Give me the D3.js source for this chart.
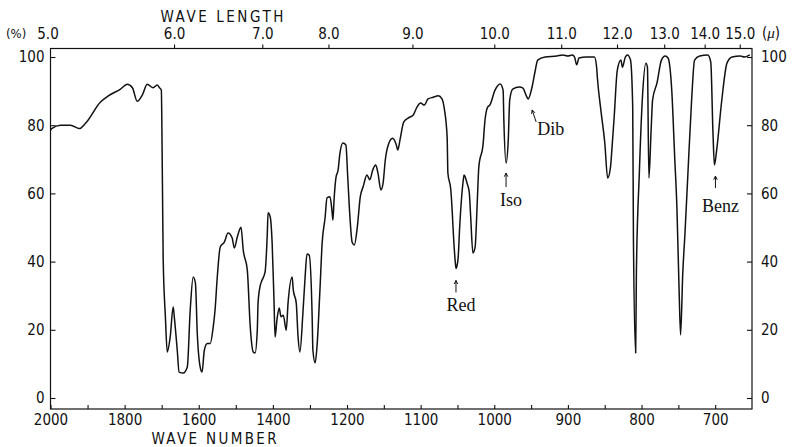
<!DOCTYPE html>
<html>
<head>
<meta charset="utf-8">
<script src="https://cdn.jsdelivr.net/npm/d3@7"></script>
<style>
  html, body { margin: 0; padding: 0; background: #fff; }
  svg { display: block; }
  .tick text { font-family: "DejaVu Sans Condensed", "Liberation Sans", sans-serif; font-size: 15px; fill: #111; }
  .lbl { font-family: "DejaVu Sans Condensed", "Liberation Sans", sans-serif; font-size: 15px; fill: #111; }
  .ann { font-family: "Liberation Serif", "DejaVu Serif", serif; font-size: 18px; fill: #111; }
</style>
</head>
<body>
<svg id="chart" width="792" height="447"></svg>
<script>
// ---------- DATA ----------
const wavenumber = [
  2000,1997,1973,1946,1922,1906,1865,1844,1811,1793,
  1779,1766,1752,1739,1723,1712,1706,1701,1698,1696,
  1690,1685,1677,1669,1666,1658,1653,1642,1631,1623,
  1615,1609,1604,1596,1591,1585,1577,1569,1561,1556,
  1550,1542,1531,1521,1510,1504,1496,1486,1480,1469,
  1461,1453,1448,1442,1440,1434,1429,1421,1415,1413,
  1407,1402,1397,1394,1389,1383,1378,1372,1364,1359,
  1348,1345,1337,1332,1327,1319,1313,1308,1302,1294,
  1292,1286,1281,1273,1267,1259,1254,1246,1240,1238,
  1235,1230,1224,1219,1211,1203,1199,1196,1193,1190,
  1186,1182,1178,1173,1169,1165,1161,1158,1154,1151,
  1148,1144,1138,1133,1131,1128,1123,1117,1110,1105,
  1100,1095,1090,1083,1076,1071,1068,1064,1063,1059,
  1057,1056,1053,1052,1051,1049,1047,1042,1041,1037,
  1034,1032,1029,1026,1023,1021,1015,1013,1009,1006,
  999,992,988,987,984,981,979,975,966,961,
  957,954,949,945,941,931,915,907,900,894,
  891,888,885,875,864,861,860,855,850,846,
  842,841,837,833,828,826,822,819,815,812,
  811,808,807,803,799,794,792,790,787,785,
  779,773,768,764,759,755,752,749,747,744,
  741,737,732,728,721,710,706,703,701,698,
  691,684,677,666,660,653
];
const transmittance = [
  78.5,79,80,80,79,80.5,86.8,88.6,90.6,92,
  91,87,88.9,92,91,91.8,91,90.3,63,41,
  23.8,13.5,17.9,26.7,23.8,14,7.6,7.3,9,25.8,
  35.5,33.7,19,9,7.6,14,16,16,20.8,25.8,
  35.5,44.3,45.7,48.4,47,44,47.2,50.1,43.4,37.5,
  20.8,13.5,13.2,20,27.9,33,34.6,37,48.4,54.3,
  53,45.5,28.7,17.9,22.9,26.4,23.8,24.3,19.9,27.9,
  35.5,31.7,27.9,17.9,13.5,24.9,35.5,42.2,41.9,23.8,
  14,10.3,15,31.7,45.5,53,58.7,59,54.3,52.2,
  58,64.5,66.9,71.8,74.8,74.2,64.8,53,45.7,44.9,
  50.1,59,62,65.4,64,66.9,68.3,66,61,63,
  69.8,74.2,76.2,74.2,72.7,75.7,80.9,82.1,83,85.3,
  86.5,85.9,87.7,88.2,88.6,87.7,85,76.5,66,61,
  54.3,50,40,38,38.4,41.3,50,64,65.4,63,
  60.4,53,42.5,44.3,58,67.7,74.8,80.6,85.3,85.9,
  90.3,92.1,90.3,81.5,68.9,75.7,87.4,90.6,91.2,90.9,
  88.9,87.7,90.9,95.3,99.1,100,100.3,100.6,100.3,100.6,
  100,97.7,99.7,100,100,97,94,84,75,64.5,
  68,70.7,83,96,99.1,97,100,100.6,99.1,85.3,
  46.3,13.2,36.7,66,87.4,98.2,97,64.5,78.6,87.4,
  92.4,99.1,100.3,99.7,90.3,70.7,56,31.7,18.5,36.7,
  48.4,66,87.4,99.1,100.3,100.6,98.5,77.7,68.3,72.7,
  87.4,98.2,100,100.3,100,100.6
];

const bottomTicks = [2000,1900,1800,1700,1600,1500,1400,1300,1200,1150,1100,1050,1000,950,900,850,800,750,700];
const bottomLabels = [2000,1800,1600,1400,1200,1100,1000,900,800,700];
const topMicrons = [5,6,7,8,9,10,11,12,13,14,15];
const topLabels = ["5.0","6.0","7.0","8.0","9.0","10.0","11.0","12.0","13.0","14.0","15.0"];
const yTicks = [0,20,40,60,80,100];
const peakNames = ["Red","Iso","Dib","Benz"];
const peakWavenumbers = [1052,984,954,701];

(function(){
// ---------- LAYOUT ----------
const svg = d3.select("#chart");
const pL = 50.5, pR = 752, pT = 48.5, pB = 409;
// piecewise-linear wavenumber scale (chart changes scale at 1200 cm-1)
const x = d3.scaleLinear().domain([2000,1200,650]).range([pL,347,pR]);
const y = d3.scaleLinear().domain([0,100]).range([398,57]);

svg.append("rect").attr("x",0).attr("y",0).attr("width",792).attr("height",447).attr("fill","#fff");

// frame
svg.append("rect").attr("x",pL).attr("y",pT).attr("width",pR-pL).attr("height",pB-pT)
  .attr("fill","none").attr("stroke","#111").attr("stroke-width",1.2);

function styleAxis(g){
  g.select(".domain").remove();
  g.selectAll(".tick line").attr("stroke","#111").attr("stroke-width",1.1);
}

// bottom axis
svg.append("g").attr("transform",`translate(0,${pB})`)
  .call(d3.axisBottom(x).tickValues(bottomTicks)
    .tickFormat(d => bottomLabels.includes(d) ? String(d) : "")
    .tickSizeInner(-4).tickSizeOuter(0).tickPadding(5))
  .call(styleAxis);

// top axis (wavelength)
svg.append("g").attr("transform",`translate(0,${pT})`)
  .call(d3.axisTop(x).tickValues(topMicrons.map(m => 1e4/m))
    .tickFormat((d,i) => topLabels[i])
    .tickSizeInner(4).tickSizeOuter(0).tickPadding(6))
  .call(styleAxis)
  .call(g => g.selectAll(".tick").filter((d,i)=>i===0).select("line").remove())
  .call(g => g.selectAll(".tick").filter((d,i)=>i===0).select("text").attr("dx",-3));

// left axis
svg.append("g").attr("transform",`translate(${pL},0)`)
  .call(d3.axisLeft(y).tickValues(yTicks).tickSizeInner(-5).tickSizeOuter(0).tickPadding(6))
  .call(styleAxis);

// right axis
svg.append("g").attr("transform",`translate(${pR},0)`)
  .call(d3.axisRight(y).tickValues(yTicks).tickSizeInner(-5).tickSizeOuter(0).tickPadding(9))
  .call(styleAxis);

// titles
svg.append("text").attr("class","lbl").attr("x",222).attr("y",22).attr("text-anchor","middle")
  .attr("textLength",123).attr("lengthAdjust","spacing").text("WAVE LENGTH");
svg.append("text").attr("class","lbl").attr("x",214).attr("y",444).attr("text-anchor","middle")
  .attr("textLength",125).attr("lengthAdjust","spacing").text("WAVE NUMBER");
svg.append("text").attr("class","lbl").attr("x",6).attr("y",38).style("font-size","13px").text("(%)");
const mu = svg.append("text").attr("class","lbl").attr("x",762).attr("y",38);
mu.append("tspan").text("(");
mu.append("tspan").style("font-style","italic").attr("font-family","Liberation Serif, serif").text("μ");
mu.append("tspan").text(")");

// spectrum
const pts = wavenumber.map((w,i) => [w, transmittance[i]]);
const line = d3.line().x(d => x(d[0])).y(d => y(d[1])).curve(d3.curveMonotoneX);
svg.append("path").datum(pts).attr("d", line)
  .attr("fill","none").attr("stroke","#111").attr("stroke-width",1.5).attr("stroke-linejoin","round");

// annotations
const annOffsets = [
  {ax:0, ay0:12, ay1:24, tx:5, ty:43, anchor:"middle", diag:false},
  {ax:0, ay0:10, ay1:24, tx:5, ty:43, anchor:"middle", diag:false},
  {ax:4, ay0:11, ay1:23, tx:9, ty:36, anchor:"start", diag:true},
  {ax:1, ay0:11, ay1:23, tx:6, ty:47, anchor:"middle", diag:false}
];
peakNames.forEach((name,i) => {
  const w = peakWavenumbers[i];
  let idx = d3.minIndex(wavenumber, v => Math.abs(v - w));
  const px = x(wavenumber[idx]), py = y(transmittance[idx]);
  const o = annOffsets[i];
  const hx = px + o.ax, hy = py + o.ay0;
  const tx = o.diag ? hx + 4 : hx;
  const ty = py + o.ay1;
  svg.append("line").attr("x1",hx).attr("y1",hy).attr("x2",tx).attr("y2",ty)
    .attr("stroke","#111").attr("stroke-width",1);
  const ang = Math.atan2(ty-hy, tx-hx);
  const a1 = ang + 0.45, a2 = ang - 0.45;
  svg.append("path")
    .attr("d",`M${hx+4*Math.cos(a1)},${hy+4*Math.sin(a1)}L${hx},${hy}L${hx+4*Math.cos(a2)},${hy+4*Math.sin(a2)}`)
    .attr("fill","none").attr("stroke","#111").attr("stroke-width",1);
  svg.append("text").attr("class","ann")
    .attr("x", px + o.tx)
    .attr("y", py + o.ty).attr("text-anchor", o.anchor).text(name);
});
})();
</script>
</body>
</html>
